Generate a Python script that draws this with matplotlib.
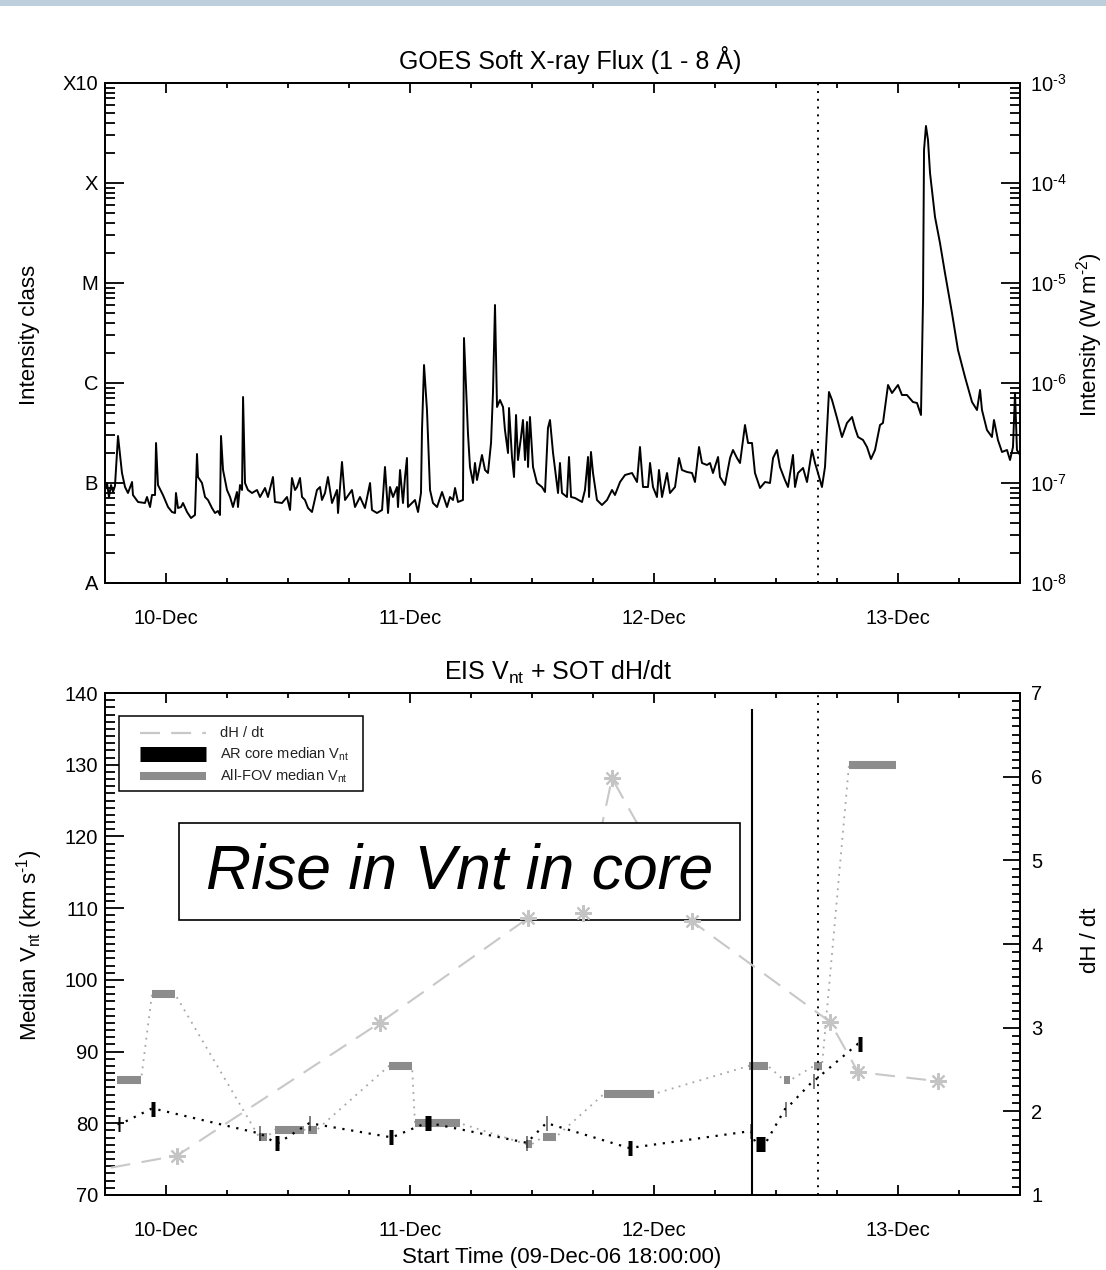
import numpy as np
import matplotlib
matplotlib.use('Agg')
import matplotlib.pyplot as plt
from matplotlib.patches import Rectangle
from matplotlib.lines import Line2D
from matplotlib.ticker import FixedLocator, MultipleLocator, LogLocator, NullFormatter

plt.rcParams['font.family'] = ['Liberation Sans', 'DejaVu Sans']
plt.rcParams['mathtext.fontset'] = 'custom'
plt.rcParams['mathtext.rm'] = 'Liberation Sans'
plt.rcParams['mathtext.it'] = 'Liberation Sans:italic'
plt.rcParams['mathtext.default'] = 'regular'

# ---------------- data (time in hours since 09-Dec-06 18:00:00) ----------------
day_tick_hours = [6, 30, 54, 78]
day_tick_labels = ['10-Dec', '11-Dec', '12-Dec', '13-Dec']

class_levels = [1e-8, 1e-7, 1e-6, 1e-5, 1e-4, 1e-3]
class_labels = ['A', 'B', 'C', 'M', 'X', 'X10']
flux_labels = ['$10^{\u20108}$', '$10^{\u20107}$', '$10^{\u20106}$',
               '$10^{\u20105}$', '$10^{\u20104}$', '$10^{\u20103}$']

goes_hours = [
    0.00, 0.20, 0.39, 0.59, 0.79, 0.98, 1.28, 1.67, 1.97, 2.26, 2.66, 2.75, 3.25, 3.93, 4.13,
    4.43, 4.62, 4.92, 5.02, 5.21, 5.70, 6.20, 6.59, 6.89, 6.98, 7.18, 7.48, 7.67, 8.07, 8.46,
    8.85, 9.05, 9.15, 9.54, 9.84, 10.13, 10.52, 10.82, 11.11, 11.31, 11.41, 11.61, 12.00, 12.30,
    12.59, 12.98, 13.08, 13.28, 13.48, 13.58, 13.77, 14.06, 14.46, 14.95, 15.25, 15.74, 16.03,
    16.52, 16.72, 17.41, 17.90, 18.20, 18.39, 18.69, 18.89, 19.18, 19.38, 19.67, 19.97, 20.36,
    20.85, 21.15, 21.34, 21.64, 21.93, 22.33, 22.82, 22.92, 23.31, 23.61, 24.29, 24.59, 25.08,
    25.57, 26.07, 26.26, 26.75, 27.25, 27.54, 27.84, 28.03, 28.33, 28.72, 28.82, 29.02, 29.31,
    29.51, 29.70, 29.80, 30.49,
    30.79, 31.08, 31.18, 31.38, 31.67, 31.97, 32.26, 32.66, 33.15, 33.64, 33.93, 34.23, 34.43,
    34.72, 35.21, 35.31, 35.70, 35.90, 36.20, 36.39, 36.59, 37.08, 37.38, 37.67, 37.97, 38.16,
    38.36, 38.56, 38.85, 39.15, 39.34, 39.64, 39.74, 40.03, 40.23, 40.43, 40.62, 40.92, 41.11,
    41.31, 41.51, 41.61, 41.80, 42.10, 42.49, 42.98, 43.28, 43.57, 43.77, 44.07, 44.56, 44.75,
    44.95, 45.44, 45.64, 45.84, 46.23, 46.92, 47.21, 47.51, 47.61, 47.80, 48.00, 48.39, 48.88,
    49.38, 49.87, 50.16, 50.66, 51.15, 51.84, 52.33, 52.62, 52.92, 53.41, 53.61, 53.90, 54.29,
    54.49, 54.79, 55.28, 55.57, 56.07, 56.46, 56.75, 57.25, 57.74, 58.03, 58.43, 58.72, 59.21,
    59.51, 59.80, 60.30, 60.49, 60.98,
    61.48, 61.77, 62.16, 62.46, 62.95, 63.25, 63.64, 63.93, 64.43, 64.92, 65.41, 65.71, 66.10,
    66.39, 66.88, 67.18, 67.67, 67.87, 68.16, 68.66, 69.05, 69.54, 69.84, 70.13, 70.52, 70.82,
    71.21, 71.51, 72.00, 72.49, 72.98, 73.48, 73.77, 74.07, 74.56, 74.95, 75.34, 75.74, 76.23,
    76.52, 77.02, 77.41, 78.00, 78.39, 78.88, 79.47, 79.87, 80.26, 80.46, 80.56, 80.75, 80.95,
    81.15, 81.64, 82.13, 82.62, 83.31, 83.90, 84.59, 85.28, 85.77, 86.07, 86.26, 86.75, 87.24,
    87.44, 87.83, 88.23, 88.72, 89.02, 89.31, 89.51, 89.70, 90.00]

goes_log_flux = [
    -7.07, -7.00, -7.14, -7.02, -7.09, -7.03, -6.53, -6.90, -7.04, -7.10, -6.99, -7.12, -7.19, -7.20, -7.14,
    -7.24, -7.12, -7.12, -6.60, -7.02, -7.12, -7.24, -7.29, -7.30, -7.10, -7.25, -7.24, -7.20, -7.29, -7.35,
    -7.32, -6.71, -6.94, -7.00, -7.14, -7.17, -7.25, -7.30, -7.28, -7.32, -6.53, -6.87, -7.07, -7.14,
    -7.24, -7.09, -7.24, -7.02, -7.07, -6.14, -7.00, -7.07, -7.10, -7.07, -7.14, -7.05, -7.14,
    -6.94, -7.19, -7.20, -7.14, -7.27, -6.95, -7.07, -7.04, -6.95, -7.14, -7.17, -7.25, -7.29,
    -7.07, -7.04, -7.17, -7.10, -6.94, -7.20, -7.07, -7.30, -6.79, -7.17, -7.07, -7.24, -7.14,
    -7.25, -7.00, -7.27, -7.30, -7.27, -6.84, -7.30, -7.04, -7.14, -7.04, -7.24, -6.87, -7.20,
    -6.94, -6.75, -7.24, -7.17,
    -7.29, -7.10, -6.47, -5.82, -6.27, -7.07, -7.20, -7.24, -7.09, -7.24, -7.14, -7.17, -7.05,
    -7.19, -7.17, -5.55, -6.50, -6.84, -7.00, -6.80, -6.97, -6.72, -6.87, -6.90, -6.60, -6.10,
    -5.22, -6.24, -6.17, -6.24, -6.47, -6.70, -6.25, -6.74, -6.94, -6.32, -6.77, -6.54, -6.37,
    -6.77, -6.39, -6.84, -6.34, -6.84, -7.00, -7.04, -7.09, -6.45, -6.37, -6.70, -7.10, -6.80,
    -7.10, -7.14, -6.74, -7.14, -7.15, -7.19, -7.07, -6.74, -7.14, -6.69, -6.90, -7.17, -7.22,
    -7.17, -7.07, -7.12, -6.99, -6.92, -6.90, -6.99, -6.64, -7.04, -7.04, -6.80, -7.04, -7.14,
    -6.87, -7.14, -6.90, -7.10, -7.04, -6.75, -6.87, -6.89, -6.90, -6.99, -6.64, -6.80, -6.82,
    -6.80, -6.90, -6.74, -6.94, -7.02,
    -6.75, -6.67, -6.75, -6.80, -6.42, -6.60, -6.60, -6.90, -7.05, -6.99, -7.00, -6.75, -6.67,
    -6.84, -6.97, -7.04, -6.72, -7.04, -6.90, -6.85, -6.99, -6.67, -6.80, -6.90, -7.04, -6.84,
    -6.09, -6.17, -6.35, -6.54, -6.40, -6.34, -6.45, -6.54, -6.57, -6.64, -6.76, -6.67, -6.42,
    -6.40, -6.02, -6.10, -6.02, -6.12, -6.12, -6.19, -6.20, -6.32, -5.17, -3.67, -3.43, -3.57,
    -3.90, -4.34, -4.60, -4.90, -5.30, -5.67, -5.94, -6.19, -6.27, -6.07, -6.27, -6.47, -6.54,
    -6.37, -6.57, -6.69, -6.67, -6.77, -6.64, -6.10, -6.67, -6.72]

# EIS All-FOV median Vnt (raster start, end [h], value [km/s])
fov_start = [1.18, 4.62, 15.15, 16.72, 19.97, 27.93, 30.49, 41.41, 43.08, 49.08, 63.34, 66.79, 69.74, 73.18]
fov_end   = [3.54, 6.89, 15.93, 19.57, 20.85, 30.20, 34.92, 42.00, 44.36, 54.00, 65.21, 67.38, 70.52, 77.80]
fov_vnt   = [86.0, 98.0, 78.1, 79.1, 79.1, 88.0, 80.0, 77.1, 78.1, 84.1, 88.0, 86.0, 88.0, 130.0]

# EIS AR core median Vnt
core_start = [1.23, 4.52, 15.15, 16.72, 20.07, 27.93, 31.52, 41.41, 43.38, 51.44, 63.44, 64.03, 66.89, 69.64, 74.07]
core_end   = [1.52, 4.92, 15.25, 17.11, 20.17, 28.33, 32.02, 41.51, 43.48, 51.84, 63.54, 64.92, 66.99, 69.74, 74.46]
core_vnt   = [79.9, 82.0, 78.6, 77.3, 80.0, 78.1, 80.0, 77.3, 80.0, 76.6, 78.9, 77.1, 82.0, 85.9, 91.1]

# SOT dH/dt
dhdt_hours  = [-2.46, 7.08, 27.05, 41.61, 47.02, 49.87, 57.74, 71.31, 74.07, 81.93]
dhdt_values = [1.26, 1.47, 3.06, 4.31, 4.37, 5.98, 4.27, 3.07, 2.47, 2.36]

event_solid_hour = 63.64
event_solid_top = 137.6
event_dotted_hour = 70.13

vnt_ticks = [70, 80, 90, 100, 110, 120, 130, 140]
dhdt_ticks = [1, 2, 3, 4, 5, 6, 7]

# ---------------- figure ----------------
W, H = 1106, 1270
fig = plt.figure(figsize=(W / 100, H / 100), dpi=100)
fig.patch.set_facecolor('white')

def fx(x):
    return x / W

def fy(y):
    return 1 - y / H

FS = 14.5
LFS = 16
SPW = 1.3

fig.add_artist(Rectangle((0, fy(6)), 1, 6 / H, transform=fig.transFigure,
                         facecolor='#bdcfdd', edgecolor='none', zorder=0))

ax1 = fig.add_axes([fx(105), fy(583), 915 / W, 500 / H])
ax2 = fig.add_axes([fx(105), fy(1195), 915 / W, 502 / H])

for ax in (ax1, ax2):
    for s in ax.spines.values():
        s.set_linewidth(SPW)
    ax.set_xlim(0, 90)
    ax.xaxis.set_major_locator(FixedLocator(day_tick_hours))
    ax.set_xticklabels(day_tick_labels)
    ax.xaxis.set_minor_locator(MultipleLocator(6))
    ax.tick_params(axis='x', which='major', direction='in', length=7.2, width=SPW,
                   top=True, bottom=True, labelsize=FS, pad=19)
    ax.tick_params(axis='x', which='minor', direction='in', length=3.6, width=SPW,
                   top=True, bottom=True)

# ---- top panel: GOES ----
ax1.plot(goes_hours, 10 ** np.array(goes_log_flux), color='black', lw=1.4, zorder=3)
ax1.set_yscale('log')
ax1.set_ylim(1e-8, 1e-3)
ax1.yaxis.set_major_locator(FixedLocator(class_levels))
ax1.set_yticklabels(class_labels)
ax1.yaxis.set_minor_locator(LogLocator(base=10, subs=np.arange(2, 10)))
ax1.yaxis.set_minor_formatter(NullFormatter())
ax1.tick_params(axis='y', which='major', direction='in', length=13.7, width=SPW,
                left=True, right=False, labelsize=FS, pad=5)
ax1.tick_params(axis='y', which='minor', direction='in', length=7.2, width=SPW,
                left=True, right=False)
ax1.axvline(event_dotted_hour, color='black', lw=1.4, ls=(0, (1, 3)), zorder=2)

ax1r = ax1.twinx()
ax1r.set_yscale('log')
ax1r.set_ylim(1e-8, 1e-3)
ax1r.yaxis.set_major_locator(FixedLocator(class_levels))
ax1r.set_yticklabels(flux_labels)
ax1r.yaxis.set_minor_locator(LogLocator(base=10, subs=np.arange(2, 10)))
ax1r.yaxis.set_minor_formatter(NullFormatter())
ax1r.tick_params(axis='y', which='major', direction='in', length=13.7, width=SPW,
                 right=True, labelsize=FS, pad=7)
ax1r.tick_params(axis='y', which='minor', direction='in', length=7.2, width=SPW, right=True)
for s in ax1r.spines.values():
    s.set_linewidth(SPW)

# ---- bottom panel: EIS Vnt + SOT dH/dt ----
ax2.set_ylim(70, 140)
ax2.yaxis.set_major_locator(FixedLocator(vnt_ticks))
ax2.yaxis.set_minor_locator(MultipleLocator(1))
ax2.tick_params(axis='y', which='major', direction='in', length=13.7, width=SPW,
                left=True, right=False, labelsize=FS, pad=5)
ax2.tick_params(axis='y', which='minor', direction='in', length=7.2, width=SPW,
                left=True, right=False)

fov_x = np.ravel(np.column_stack([fov_start, fov_end]))
fov_y = np.repeat(fov_vnt, 2)
core_x = np.ravel(np.column_stack([core_start, core_end]))
core_y = np.repeat(core_vnt, 2)

ax2.plot(fov_x, fov_y, color='#a6a6a6', lw=1.3, ls=(0, (1, 3)), zorder=2)
for s, e, v in zip(fov_start, fov_end, fov_vnt):
    ax2.plot([s, e], [v, v], color='#8c8c8c', lw=5.8, solid_capstyle='butt', zorder=3)
ax2.plot(core_x, core_y, color='black', lw=1.6, ls=(0, (1, 3)), zorder=4)
for s, e, v in zip(core_start, core_end, core_vnt):
    ax2.plot([s, e], [v, v], color='black', lw=10.8, solid_capstyle='butt', zorder=5)

ax2.plot([event_solid_hour, event_solid_hour], [70, event_solid_top], color='black', lw=1.5, zorder=6)
ax2.axvline(event_dotted_hour, color='black', lw=1.4, ls=(0, (1, 3)), zorder=6)

ax2r = ax2.twinx()
ax2r.set_ylim(1, 7)
ax2r.yaxis.set_major_locator(FixedLocator(dhdt_ticks))
ax2r.yaxis.set_minor_locator(MultipleLocator(0.1))
ax2r.tick_params(axis='y', which='major', direction='in', length=12.2, width=SPW,
                 right=True, labelsize=FS, pad=8)
ax2r.tick_params(axis='y', which='minor', direction='in', length=5.8, width=SPW, right=True)
for s in ax2r.spines.values():
    s.set_linewidth(SPW)
# dashed line below the annotation box, asterisks above it
ax2r.plot(dhdt_hours, dhdt_values, color='#c8c8c8', lw=1.5, dashes=(9.5, 5.5), zorder=1)
ax2r.add_patch(Rectangle((fx(179), fy(920)), fx(740) - fx(179), (920 - 823) / H,
                         transform=fig.transFigure, facecolor='white', edgecolor='black',
                         lw=1.2, zorder=2, clip_on=False))
ax2r.plot(dhdt_hours, dhdt_values, ls='none', marker=(8, 2, 0), ms=12, mew=1.5,
          mec='#c4c4c4', zorder=3)
ax2r.text(fx(460), fy(872), 'Rise in Vnt in core', transform=fig.transFigure, ha='center',
          va='center', fontsize=45, style='italic', zorder=4)

# ---- texts ----
fig.text(fx(570), fy(60), 'GOES Soft X-ray Flux (1 - 8 Å)', ha='center', va='center', fontsize=18)
fig.text(fx(558), fy(672), 'EIS V$_{nt}$ + SOT dH/dt', ha='center', va='center', fontsize=18)
fig.text(fx(30), fy(335), 'Intensity class', rotation=90, ha='center', va='center', fontsize=LFS)
fig.text(fx(1090), fy(335), 'Intensity (W m$^{\u20102}$)', rotation=90, ha='center', va='center', fontsize=LFS)
fig.text(fx(30), fy(945), 'Median V$_{nt}$ (km s$^{\u20101}$)', rotation=90, ha='center', va='center', fontsize=LFS)
fig.text(fx(1090), fy(940), 'dH / dt', rotation=90, ha='center', va='center', fontsize=LFS)
fig.text(fx(562), fy(1257), 'Start Time (09-Dec-06 18:00:00)', ha='center', va='center', fontsize=LFS)

# legend (drawn in figure pixels)
fig.add_artist(Rectangle((fx(119), fy(791)), fx(363) - fx(119), (791 - 716) / H,
                         transform=fig.transFigure, facecolor='white', edgecolor='black',
                         lw=1.1, zorder=10))
leg_rows = [733, 754, 776]
fig.add_artist(Line2D([fx(140), fx(206)], [fy(leg_rows[0])] * 2, transform=fig.transFigure,
                      color='#c8c8c8', lw=1.6, dashes=(9.0, 5.0), zorder=11))
fig.add_artist(Line2D([fx(140), fx(206)], [fy(leg_rows[1])] * 2, transform=fig.transFigure,
                      color='black', lw=10.8, solid_capstyle='butt', zorder=11))
fig.add_artist(Line2D([fx(140), fx(206)], [fy(leg_rows[2])] * 2, transform=fig.transFigure,
                      color='#8c8c8c', lw=5.8, solid_capstyle='butt', zorder=11))
leg_texts = ['dH / dt', 'AR core median V$_{nt}$', 'All-FOV median V$_{nt}$']
for yy, t in zip(leg_rows, leg_texts):
    fig.text(fx(220), fy(yy), t, ha='left', va='center', fontsize=10.5, color='#222222', zorder=12)

fig.savefig('out.png', dpi=100)
